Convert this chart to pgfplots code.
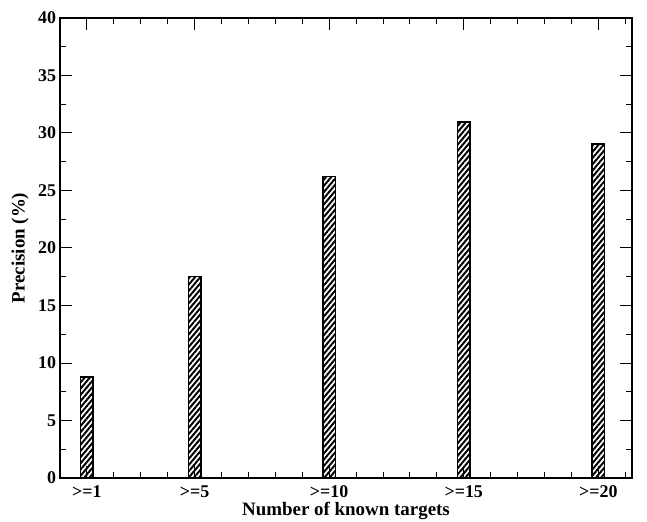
\documentclass[border=0pt]{standalone}
\usepackage{fontspec}
\setmainfont{Liberation Serif}
\usepackage{pgfplots}
\pgfplotsset{compat=1.18}
\usetikzlibrary{patterns.meta}
\begin{document}
\begin{tikzpicture}
\begin{axis}[
  scale only axis,
  width=572bp, height=460bp,
  xmin=0, xmax=21.25,
  ymin=0, ymax=40,
  xtick={1,5,10,15,20},
  xticklabels={>=1,>=5,>=10,>=15,>=20},
  minor xtick={2,3,4,6,7,8,9,11,12,13,14,16,17,18,19,21},
  ytick={0,5,...,40},
  minor ytick={2.5,7.5,...,37.5},
  major tick length=12bp,
  minor tick length=6bp,
  tick style={line width=1pt, black},
  axis line style={line width=1.3pt},
  /pgf/number format/assume math mode=true,
  ticklabel style={font=\fontsize{18}{19}\selectfont\bfseries},
  xticklabel style={anchor=center, yshift=-13.5bp, inner sep=0pt},
  yticklabel style={xshift=-0.5bp},
  label style={font=\fontsize{19}{21}\selectfont\bfseries},
  xlabel={Number of known targets},
  ylabel={Precision (\%)},
  xlabel style={at={(axis description cs:0.5,-0.072)}, anchor=center, inner sep=0pt},
  ylabel style={at={(axis description cs:-0.07,0.5)}, anchor=center},
]
\addplot[ybar, bar width=0.46, draw=black, line width=1.5pt,
  pattern={Lines[angle=50,distance=4bp,line width=2bp]}, pattern color=black]
  coordinates {(1,8.8) (5,17.5) (10,26.2) (15,30.95) (20,29.05)};
\end{axis}
\path ([xshift=-60bp,yshift=-44bp]current axis.south west) rectangle ([xshift=15bp,yshift=18bp]current axis.north east);
\end{tikzpicture}
\end{document}
